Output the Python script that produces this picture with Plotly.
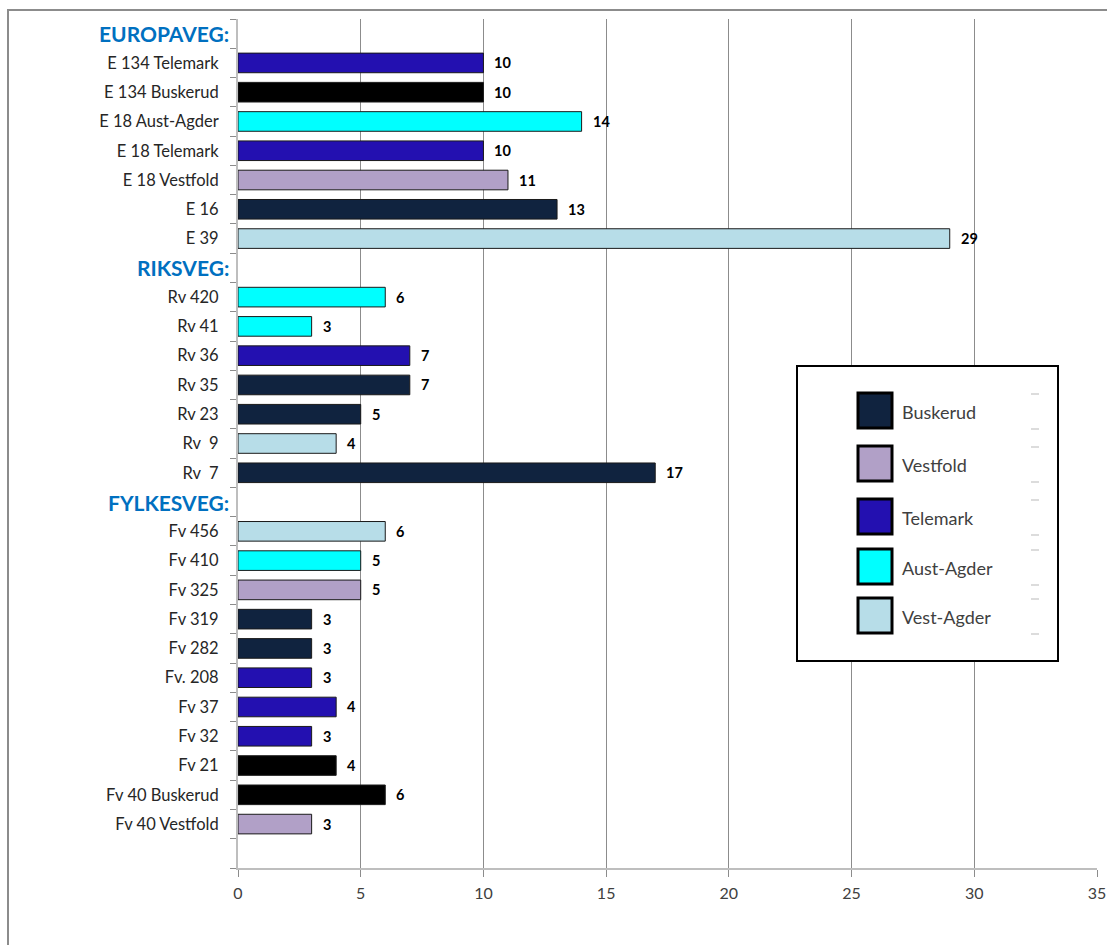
import plotly.graph_objects as go

# ---------------- data ----------------
europaveg_roads = ["E 134 Telemark", "E 134 Buskerud", "E 18 Aust-Agder", "E 18 Telemark",
                   "E 18 Vestfold", "E 16", "E 39"]
europaveg_values = [10, 10, 14, 10, 11, 13, 29]
europaveg_colors = ["#2310B0", "#000000", "#00FFFF", "#2310B0", "#B1A0C7", "#10233F", "#B7DDE8"]

riksveg_roads = ["Rv 420", "Rv 41", "Rv 36", "Rv 35", "Rv 23", "Rv  9", "Rv  7"]
riksveg_values = [6, 3, 7, 7, 5, 4, 17]
riksveg_colors = ["#00FFFF", "#00FFFF", "#2310B0", "#10233F", "#10233F", "#B7DDE8", "#10233F"]

fylkesveg_roads = ["Fv 456", "Fv 410", "Fv 325", "Fv 319", "Fv 282", "Fv. 208", "Fv 37",
                   "Fv 32", "Fv 21", "Fv 40 Buskerud", "Fv 40 Vestfold"]
fylkesveg_values = [6, 5, 5, 3, 3, 3, 4, 3, 4, 6, 3]
fylkesveg_colors = ["#B7DDE8", "#00FFFF", "#B1A0C7", "#10233F", "#10233F", "#2310B0", "#2310B0",
                    "#2310B0", "#000000", "#000000", "#B1A0C7"]

section_headers = ["EUROPAVEG:", "RIKSVEG:", "FYLKESVEG:"]

legend_names = ["Buskerud", "Vestfold", "Telemark", "Aust-Agder", "Vest-Agder"]
legend_colors = ["#10233F", "#B1A0C7", "#2310B0", "#00FFFF", "#B7DDE8"]

x_ticks = [0, 5, 10, 15, 20, 25, 30, 35]

# ---------------- build rows ----------------
rows = []  # (label, value, color, is_header)
for header, roads, vals, cols in zip(section_headers,
                                     [europaveg_roads, riksveg_roads, fylkesveg_roads],
                                     [europaveg_values, riksveg_values, fylkesveg_values],
                                     [europaveg_colors, riksveg_colors, fylkesveg_colors]):
    rows.append((header, None, None, True))
    for r, v, c in zip(roads, vals, cols):
        rows.append((r, v, c, False))
rows.append(("", None, None, False))  # empty slot at the bottom

n = len(rows)
bar_y = [i for i, r in enumerate(rows) if r[1] is not None]
bar_x = [r[1] for r in rows if r[1] is not None]
bar_c = [r[2] for r in rows if r[1] is not None]

FONT = "Lato"

fig = go.Figure()
fig.add_trace(go.Bar(
    x=bar_x, y=bar_y, orientation="h",
    marker=dict(color=bar_c, line=dict(color="#1a1a1a", width=1)),
    width=0.67, showlegend=False, hoverinfo="x+y",
))

# value labels
for y, v in zip(bar_y, bar_x):
    fig.add_annotation(x=v, y=y, text=f"<b>{v}</b>", showarrow=False, xanchor="left",
                       xshift=9, font=dict(family=FONT, size=14.5, color="#000000"))

# section headers
for i, r in enumerate(rows):
    if r[3]:
        fig.add_annotation(xref="paper", x=0, y=i, text=f"<b>{r[0]}</b>", showarrow=False,
                           xanchor="right", xshift=-7,
                           font=dict(family=FONT, size=21, color="#0070C0"))

tickvals = [i for i, r in enumerate(rows) if not r[3]]
ticktext = [r[0] for r in rows if not r[3]]

# plot area geometry (pixels)
L, R, T, B = 238, 10, 19, 77
W, H = 1107, 945
PW, PH = W - L - R, H - T - B


def px(xp):
    return (xp - L) / PW


def py(yp):
    return (H - B - yp) / PH


shapes = []
# outer chart border
shapes.append(dict(type="rect", xref="paper", yref="paper", x0=px(8), x1=px(1130),
                   y0=py(970), y1=py(10), line=dict(color="#8C8C8C", width=2),
                   fillcolor="rgba(0,0,0,0)", layer="below"))
# legend box
shapes.append(dict(type="rect", xref="paper", yref="paper", x0=px(797), x1=px(1058),
                   y0=py(661), y1=py(366), line=dict(color="#000000", width=2),
                   fillcolor="#FFFFFF", layer="above"))
sq_tops = [392, 445, 498, 548, 597]
for top, name, col in zip(sq_tops, legend_names, legend_colors):
    shapes.append(dict(type="rect", xref="paper", yref="paper", x0=px(858), x1=px(892),
                       y0=py(top + 36), y1=py(top + 1), line=dict(color="#000000", width=3),
                       fillcolor=col, layer="above"))
    fig.add_annotation(xref="paper", yref="paper", x=px(900), y=py(top + 20), text=name,
                       showarrow=False, xanchor="left", yanchor="middle",
                       font=dict(family=FONT, size=18, color="#404040"))
    for dy in (2, 37):
        shapes.append(dict(type="line", xref="paper", yref="paper", x0=px(1031), x1=px(1039),
                           y0=py(top + dy), y1=py(top + dy),
                           line=dict(color="#D0D0D0", width=1.5), layer="above"))

fig.update_layout(
    width=W, height=H,
    margin=dict(l=L, r=R, t=T, b=B, pad=0, autoexpand=False),
    paper_bgcolor="#FFFFFF", plot_bgcolor="#FFFFFF",
    shapes=shapes,
    bargap=0.33,
    xaxis=dict(range=[0, 35], tickvals=x_ticks, showgrid=True, gridcolor="#8C8C8C",
               gridwidth=1, zeroline=False, showline=True, linecolor="#BEBEBE", linewidth=2,
               ticks="outside", ticklen=7, tickcolor="#8C8C8C", tickwidth=1,
               tickfont=dict(family=FONT, size=16, color="#404040"), ticklabelstandoff=3,
               automargin=False, fixedrange=True),
    yaxis=dict(range=[n - 0.5, -0.5], tickvals=tickvals, ticktext=ticktext,
               showgrid=False, zeroline=False, showline=True, linecolor="#BEBEBE", linewidth=2,
               ticks="", tickfont=dict(family=FONT, size=16.5, color="#262626"),
               ticklabelstandoff=14, automargin=False,
               minor=dict(tickmode="linear", tick0=-0.5, dtick=1, ticks="outside", ticklen=6,
                          tickcolor="#8C8C8C", tickwidth=1, showgrid=False),
               fixedrange=True),
    font=dict(family=FONT),
)

fig.write_html("out.html")
